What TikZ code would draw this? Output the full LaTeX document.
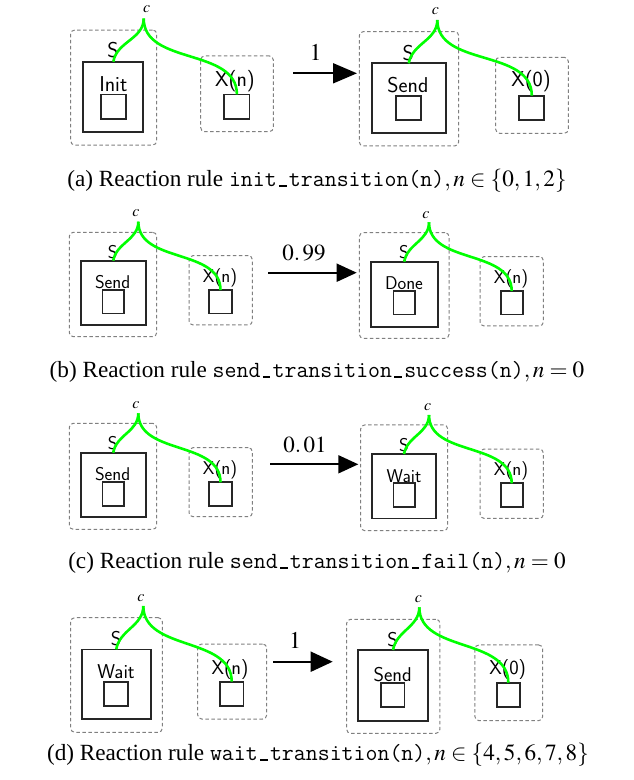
\documentclass[tikz,border=0pt]{standalone}
\usepackage{mathptmx}
\usepackage{fontspec}
\setmainfont{Liberation Serif}
\usetikzlibrary{arrows.meta}
\newcommand\fsz[1]{\fontsize{#1}{#1}\selectfont}
\newcommand\usc{\makebox[.525em]{\rule{.32em}{.07em}}}
\tikzset{
  dbox/.style={draw=black!50, dash pattern=on 3.5pt off 2.5pt, line width=1pt, rounded corners=4pt, inner sep=0pt, outer sep=0pt},
  sbox/.style={draw=black!85, line width=1.7pt, inner sep=0pt, outer sep=0pt},
  laba/.style={font=\sffamily\fsz{21.5}, inner sep=0pt},
  labb/.style={font=\sffamily\fsz{18.5}, inner sep=0pt},
  labd/.style={font=\sffamily\fsz{20}, inner sep=0pt},
  clab/.style={font=\fsz{16}, inner sep=0pt},
  captext/.style={font=\fsz{23.2}, inner sep=0pt},
  link/.style={draw=green, line width=2.6pt},
  arrA/.style={line width=1.8pt, -{Triangle[length=24pt,width=20pt]}},
  arrB/.style={line width=1.8pt, -{Triangle[length=20pt,width=18pt]}},
  arrD/.style={line width=1.8pt, -{Triangle[length=22pt,width=20pt]}},
}
\begin{document}
\begin{tikzpicture}[x=1pt,y=-1pt]
\useasboundingbox (0,0) rectangle (634,780);
% ================= (a) =================
% left
\node[dbox, minimum width=86, minimum height=115] (a1S) at (113.7,87.5) {};
\node[sbox, minimum width=60, minimum height=70.6] (a1in) at (113.3,97) {};
\node[sbox, minimum width=25.6, minimum height=24.7] (a1sm) at (113.5,106.7) {};
\node[laba] (a1t) at (113.3,84) {Init};
\node[laba] (a1s) at (113,50) {S};
\node[dbox, minimum width=72.6, minimum height=75.7] (a1X) at (237,93.8) {};
\node[sbox, minimum width=25.3, minimum height=24.7] (a1xs) at (236.9,106.7) {};
\node[laba] (a1xl) at (235,81) {X(n)};
\node[clab] (a1cl) at (146.7,9) {$c$};
\coordinate (a1c) at (143.7,18.5);
\draw[link] (a1in.north) to[out=80,in=-90] (a1c);
\draw[link] (a1xs.north) to[out=90,in=-90] (a1c);
% arrow
\coordinate (a0s) at (293.3,73.3);
\coordinate (a0e) at (357,73.3);
\draw[arrA] (a0s) -- (a0e);
\node[font=\fsz{24}, inner sep=0pt] (a0l) at (315.7,52.5) {$1$};
% right
\node[dbox, minimum width=99.4, minimum height=114.3] (a2S) at (409,88.8) {};
\node[sbox, minimum width=74, minimum height=70] (a2in) at (408.7,98.3) {};
\node[sbox, minimum width=25, minimum height=24.3] (a2sm) at (408.8,107.8) {};
\node[laba] (a2t) at (408,85.3) {Send};
\node[laba] (a2s) at (408.3,53) {S};
\node[dbox, minimum width=72.6, minimum height=76] (a2X) at (532,95.3) {};
\node[sbox, minimum width=25, minimum height=24.3] (a2xs) at (531.8,107.8) {};
\node[laba] (a2xl) at (531,81) {X(0)};
\node[clab] (a2cl) at (435.3,11) {$c$};
\coordinate (a2c) at (437.3,20);
\draw[link] (a2in.north) to[out=80,in=-90] (a2c);
\draw[link] (a2xs.north) to[out=90,in=-90] (a2c);
\node[captext] (capa) at (317,181) {(a) Reaction rule \texttt{init\usc transition(n)}$,n\in\{0,1,2\}$};
% ================= (b) =================
\node[dbox, minimum width=87.4, minimum height=104.4] (b1S) at (113,284.5) {};
\node[sbox, minimum width=65, minimum height=64.3] (b1in) at (113.2,292.8) {};
\node[sbox, minimum width=21.7, minimum height=23.3] (b1sm) at (113.2,301.7) {};
\node[labb] (b1t) at (112.7,282) {Send};
\node[labb] (b1s) at (112.7,251.7) {S};
\node[dbox, minimum width=63.3, minimum height=69.3] (b1X) at (220.7,290.3) {};
\node[sbox, minimum width=22.4, minimum height=23.3] (b1xs) at (220.5,301.7) {};
\node[labb] (b1xl) at (220,278) {X(n)};
\node[clab] (b1cl) at (136,212.7) {$c$};
\coordinate (b1c) at (138.3,221.7);
\draw[link] (b1in.north) to[out=80,in=-90] (b1c);
\draw[link] (b1xs.north) to[out=90,in=-90] (b1c);
\coordinate (b0s) at (268.3,272.7);
\coordinate (b0e) at (356.7,272.7);
\draw[arrB] (b0s) -- (b0e);
\node[font=\fsz{23}, inner sep=0pt] (b0l) at (304,253.3) {$0.\,99$};
\node[dbox, minimum width=89.7, minimum height=105.6] (b2S) at (404.2,285.5) {};
\node[sbox, minimum width=67, minimum height=65] (b2in) at (404.2,294.2) {};
\node[sbox, minimum width=21.7, minimum height=23.3] (b2sm) at (404.2,302.7) {};
\node[labb] (b2t) at (404,283.3) {Done};
\node[labb] (b2s) at (404,251.7) {S};
\node[dbox, minimum width=63.3, minimum height=69.3] (b2X) at (511.7,291.3) {};
\node[sbox, minimum width=22, minimum height=23.3] (b2xs) at (511.7,302.7) {};
\node[labb] (b2xl) at (511,279) {X(n)};
\node[clab] (b2cl) at (426,215) {$c$};
\coordinate (b2c) at (429,222.3);
\draw[link] (b2in.north) to[out=80,in=-90] (b2c);
\draw[link] (b2xs.north) to[out=90,in=-90] (b2c);
\node[captext] (capb) at (317,372) {(b) Reaction rule \texttt{send\usc transition\usc success(n)}$,n=0$};
% ================= (c) =================
\node[dbox, minimum width=87.4, minimum height=106] (c1S) at (113,476.3) {};
\node[sbox, minimum width=65, minimum height=64.6] (c1in) at (113.2,485) {};
\node[sbox, minimum width=21.7, minimum height=23.4] (c1sm) at (113.2,494) {};
\node[labb] (c1t) at (112.7,474) {Send};
\node[labb] (c1s) at (112.7,442.7) {S};
\node[dbox, minimum width=63.3, minimum height=69] (c1X) at (220.7,482.2) {};
\node[sbox, minimum width=22.4, minimum height=23.4] (c1xs) at (220.5,494) {};
\node[labb] (c1xl) at (220,470) {X(n)};
\node[clab] (c1cl) at (136,405) {$c$};
\coordinate (c1c) at (138.3,413.3);
\draw[link] (c1in.north) to[out=80,in=-90] (c1c);
\draw[link] (c1xs.north) to[out=90,in=-90] (c1c);
\coordinate (c0s) at (270,464.3);
\coordinate (c0e) at (358.3,464.3);
\draw[arrB] (c0s) -- (c0e);
\node[font=\fsz{23}, inner sep=0pt] (c0l) at (305,445) {$0.\,01$};
\node[dbox, minimum width=87, minimum height=105.7] (c2S) at (404.2,477.8) {};
\node[sbox, minimum width=64, minimum height=64.3] (c2in) at (404,486.2) {};
\node[sbox, minimum width=21.7, minimum height=23.4] (c2sm) at (404.2,495) {};
\node[labb] (c2t) at (404,475.7) {Wait};
\node[labb] (c2s) at (404,445) {S};
\node[dbox, minimum width=63.3, minimum height=69.3] (c2X) at (511.7,483.7) {};
\node[sbox, minimum width=22, minimum height=23.4] (c2xs) at (511.7,495) {};
\node[labb] (c2xl) at (511,471) {X(n)};
\node[clab] (c2cl) at (427.7,406.7) {$c$};
\coordinate (c2c) at (429,415);
\draw[link] (c2in.north) to[out=80,in=-90] (c2c);
\draw[link] (c2xs.north) to[out=90,in=-90] (c2c);
\node[captext] (capc) at (317,563) {(c) Reaction rule \texttt{send\usc transition\usc fail(n)}$,n=0$};
% ================= (d) =================
\node[dbox, minimum width=91.6, minimum height=114.6] (d1S) at (116.5,675) {};
\node[sbox, minimum width=69, minimum height=69.7] (d1in) at (116.2,684.2) {};
\node[sbox, minimum width=24, minimum height=24.3] (d1sm) at (116.3,693.8) {};
\node[labd] (d1t) at (116,671.7) {Wait};
\node[labd] (d1s) at (116,638.3) {S};
\node[dbox, minimum width=69, minimum height=75] (d1X) at (232.2,681.5) {};
\node[sbox, minimum width=23.3, minimum height=24.3] (d1xs) at (231.7,693.8) {};
\node[labd] (d1xl) at (230,670) {X(n)};
\node[clab] (d1cl) at (141,598.3) {$c$};
\coordinate (d1c) at (143.3,606);
\draw[link] (d1in.north) to[out=80,in=-90] (d1c);
\draw[link] (d1xs.north) to[out=90,in=-90] (d1c);
\coordinate (d0s) at (273.3,661.7);
\coordinate (d0e) at (332.7,661.7);
\draw[arrD] (d0s) -- (d0e);
\node[font=\fsz{24}, inner sep=0pt] (d0l) at (295,640) {$1$};
\node[dbox, minimum width=93.3, minimum height=114] (d2S) at (393.3,676.3) {};
\node[sbox, minimum width=69.4, minimum height=70.7] (d2in) at (393,685.3) {};
\node[sbox, minimum width=23.3, minimum height=24.6] (d2sm) at (392.7,695) {};
\node[labd] (d2t) at (392.7,674.3) {Send};
\node[labd] (d2s) at (392.7,639.3) {S};
\node[dbox, minimum width=67.7, minimum height=75.7] (d2X) at (508.8,682.8) {};
\node[sbox, minimum width=23.3, minimum height=24.6] (d2xs) at (508.3,695) {};
\node[labd] (d2xl) at (507.7,669.3) {X(0)};
\node[clab] (d2cl) at (418.3,599.3) {$c$};
\coordinate (d2c) at (419.3,607.3);
\draw[link] (d2in.north) to[out=80,in=-90] (d2c);
\draw[link] (d2xs.north) to[out=90,in=-90] (d2c);
\node[captext] (capd) at (318,755) {(d) Reaction rule \texttt{wait\usc transition(n)}$,n\in\{4,5,6,7,8\}$};
\end{tikzpicture}
\end{document}
